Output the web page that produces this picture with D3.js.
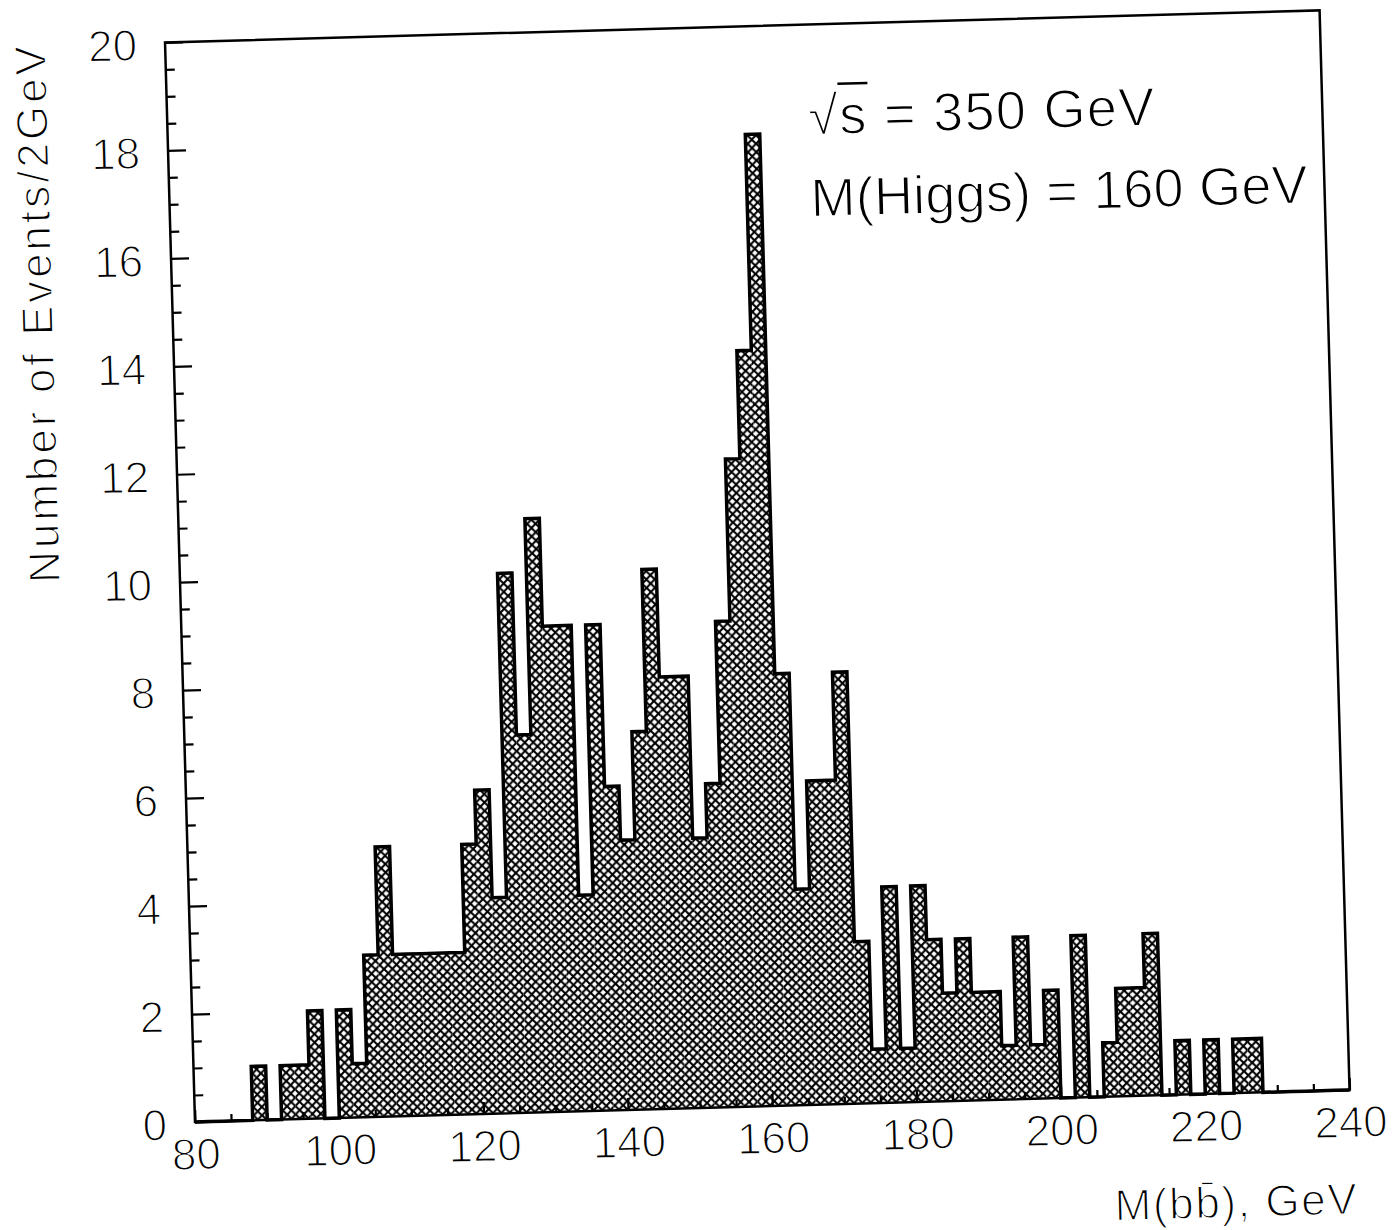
<!DOCTYPE html>
<html lang="en">
<head>
    <meta charset="utf-8">
    <title>M(bb) mass spectrum</title>
    <style>
        body{ margin: 0; background: #fff; }
        /* thin strokes like the plotter font: a white rim eats into each glyph */
        text{ font-family: "Liberation Sans", Helvetica, Arial, sans-serif; fill: #000; stroke: #fff; stroke-width: 1.4px; }
    </style>
    <script type="text/javascript" src="https://d3js.org/d3.v7.min.js"></script>
</head>
<body>
    <div class="chart"></div>
    <script type="text/javascript">
        // DATA ------------------------------------
        const binStart = 80;   // GeV, left edge of first bin
        const binWidth = 2;    // GeV per bin
        // events per 2 GeV bin, 80 -> 240 GeV
        const counts = [
            0, 0, 0, 0, 1, 0, 1, 1, 2, 0,
            2, 1, 3, 5, 3, 3, 3, 3, 3, 5,
            6, 4, 10, 7, 11, 9, 9, 4, 9, 6,
            5, 7, 10, 8, 8, 5, 6, 9, 12, 14,
            18, 8, 4, 6, 6, 8, 3, 1, 4, 1,
            4, 3, 2, 3, 2, 2, 1, 3, 1, 2,
            0, 3, 0, 1, 2, 2, 3, 0, 1, 0,
            1, 0, 1, 1, 0, 0, 0, 0, 0, 0
        ];
        const xTicks = [80, 100, 120, 140, 160, 180, 200, 220, 240];
        const yTicks = [0, 2, 4, 6, 8, 10, 12, 14, 16, 18, 20];
        const xTitle = "M(bb\u0304), GeV";
        const yTitle = "Number of Events/2GeV";
        const notes = ["\u221As = 350 GeV", "M(Higgs) = 160 GeV"];

        // CHART INIT ------------------------------
        const W = 1397, H = 1230;
        const w = 1155, h = 1080;
        const tilt = -1.59;   // the scanned page sits a little crooked

        var svg = d3.select(".chart")
            .append("svg")
            .attr("width", W)
            .attr("height", H);

        var g = svg.append("g")
            .attr("transform", `translate(195,1122) rotate(${tilt}) translate(0,${-h})`);

        var xScale = d3.scaleLinear().domain([80, 240]).range([0, w]);
        var yScale = d3.scaleLinear().domain([0, 20]).range([h, 0]);

        // cross hatch fill
        const s = 8.4;
        var hatch = svg.append("defs").append("pattern")
            .attr("id", "hatch")
            .attr("patternUnits", "userSpaceOnUse")
            .attr("width", s)
            .attr("height", s);
        hatch.append("rect").attr("width", s).attr("height", s).attr("fill", "#fff");
        hatch.append("path")
            .attr("d", `M0,0L${s},${s}M${s},0L0,${s}`)
            .attr("stroke", "#000")
            .attr("stroke-width", 2.1);

        // BARS ------------------------------------
        var bins = counts.map((v, i) => ({x0: binStart + i * binWidth, x1: binStart + (i + 1) * binWidth, n: v}));

        g.selectAll("rect.bar")
            .data(bins.filter(d => d.n > 0))
            .enter()
            .append("rect")
            .attr("class", "bar")
            .attr("x", d => xScale(d.x0))
            .attr("y", d => yScale(d.n))
            .attr("width", d => xScale(d.x1) - xScale(d.x0))
            .attr("height", d => h - yScale(d.n))
            .attr("fill", "url(#hatch)");

        // step outline of the histogram
        var pts = [[binStart, 0]].concat(bins.map(d => [d.x0, d.n]));
        pts.push([bins[bins.length - 1].x1, 0]);
        var step = d3.line()
            .x(d => xScale(d[0]))
            .y(d => yScale(d[1]))
            .curve(d3.curveStepAfter);
        g.append("path")
            .datum(pts)
            .attr("d", step)
            .attr("fill", "none")
            .attr("stroke", "#000")
            .attr("stroke-width", 3.5);

        // AXES ------------------------------------
        function styleAxis(sel, size) {
            sel.select(".domain").remove();
            sel.selectAll(".tick line").attr("stroke-width", 2.2);
            sel.selectAll("text").attr("font-size", size);
        }

        g.append("g")
            .attr("transform", `translate(0,${h})`)
            .call(d3.axisBottom(xScale).tickValues(d3.range(85, 240, 5).filter(v => v % 20 != 0)).tickSize(-7).tickFormat(""))
            .call(styleAxis, 44);
        g.append("g")
            .attr("class", "axis x-axis")
            .attr("transform", `translate(0,${h})`)
            .call(d3.axisBottom(xScale).tickValues(xTicks).tickSize(-12).tickPadding(16).tickFormat(d3.format("d")))
            .call(styleAxis, 44);

        g.append("g")
            .call(d3.axisLeft(yScale).tickValues(d3.range(0.5, 20, 0.5).filter(v => v % 2 != 0)).tickSize(-9).tickFormat(""))
            .call(styleAxis, 44);
        g.append("g")
            .attr("class", "axis y-axis")
            .call(d3.axisLeft(yScale).tickValues(yTicks).tickSize(-18).tickPadding(28).tickFormat(d3.format("d")))
            .call(styleAxis, 44)
            .selectAll("text").attr("dy", "0.38em");

        // frame
        g.append("rect")
            .attr("width", w)
            .attr("height", h)
            .attr("fill", "none")
            .attr("stroke", "#000")
            .attr("stroke-width", 2.5);

        // TITLES ----------------------------------
        g.append("text")
            .attr("x", w + 4)
            .attr("y", h + 124)
            .attr("text-anchor", "end")
            .attr("font-size", 44)
            .attr("textLength", 242)
            .text(xTitle);

        g.append("text")
            .attr("transform", `translate(-120,0) rotate(-90)`)
            .attr("text-anchor", "end")
            .attr("font-size", 44)
            .attr("textLength", 537)
            .text(yTitle);

        // annotation
        const noteLen = [346, 497];
        var note = g.selectAll("text.note")
            .data(notes)
            .enter()
            .append("text")
            .attr("class", "note")
            .attr("x", 641)
            .attr("y", (d, i) => 110 + i * 82)
            .attr("font-size", 54)
            .attr("textLength", (d, i) => noteLen[i])
            .text(d => d);

        // vinculum over the s of the square root
        var box = note.node().getExtentOfChar(1);
        g.append("line")
            .attr("x1", box.x - 1)
            .attr("x2", box.x + box.width + 2)
            .attr("y1", 110 - 50)
            .attr("y2", 110 - 50)
            .attr("stroke", "#000")
            .attr("stroke-width", 2.5);
    </script>
</body>
</html>
